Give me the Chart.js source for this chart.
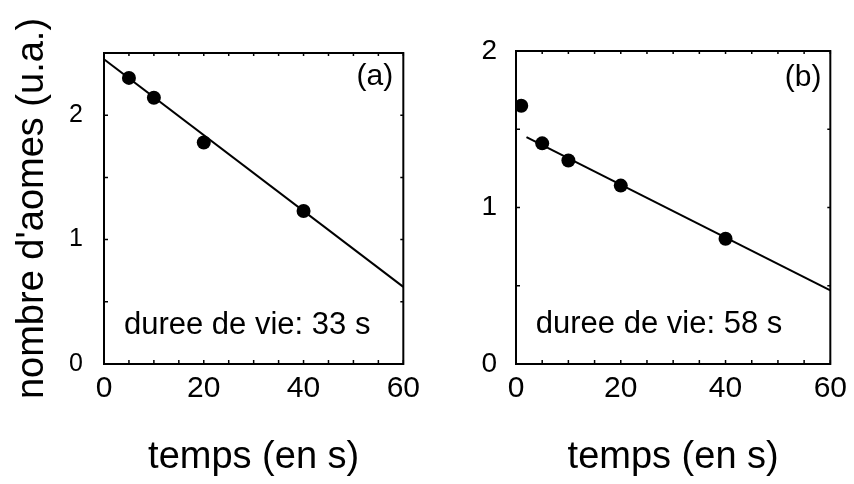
<!DOCTYPE html>
<html>
<head>
<meta charset="utf-8">
<script src="https://cdn.jsdelivr.net/npm/chart.js@4"></script>
<style>
  html, body { margin: 0; padding: 0; background: #fff; }
  #wrap { display: flex; width: 854px; height: 484px; }
  canvas { display: block; }
</style>
</head>
<body>
<div id="wrap">
  <canvas id="chartA" width="427" height="484"></canvas>
  <canvas id="chartB" width="427" height="484"></canvas>
</div>
<script>
// donnees
var tempsA = [5, 10, 20, 40];
var atomesA = [2.30, 2.14, 1.78, 1.23];
var ajustTempsA = [0, 60];
var ajustA = [2.45, 0.62];

var tempsB = [1, 5, 10, 20, 40];
var atomesB = [1.65, 1.41, 1.30, 1.14, 0.80];
var ajustTempsB = [2, 60];
var ajustB = [1.45, 0.47];

var xTicks = [0, 20, 40, 60];
var yTicks = [0, 1, 2];

var police = "'Liberation Sans', Arial, Helvetica, sans-serif";

function points(xs, ys) {
  return xs.map(function (x, i) { return {x: x, y: ys[i]}; });
}

// cadre, petites graduations internes et textes
var cadre = {
  id: 'cadre',
  afterDraw: function (chart, args, opts) {
    var ctx = chart.ctx, a = chart.chartArea;
    var x = chart.scales.x, y = chart.scales.y;
    ctx.save();
    ctx.strokeStyle = '#000';
    ctx.lineWidth = 2;
    ctx.strokeRect(a.left, a.top, a.right - a.left, a.bottom - a.top);
    ctx.lineWidth = 1.5;
    ctx.beginPath();
    x.ticks.forEach(function (t) {
      var px = x.getPixelForValue(t.value);
      ctx.moveTo(px, a.bottom); ctx.lineTo(px, a.bottom - 4);
      ctx.moveTo(px, a.top); ctx.lineTo(px, a.top + 3);
    });
    y.ticks.forEach(function (t) {
      var py = y.getPixelForValue(t.value);
      ctx.moveTo(a.left, py); ctx.lineTo(a.left + 4, py);
      ctx.moveTo(a.right, py); ctx.lineTo(a.right - 3, py);
    });
    ctx.stroke();
    ctx.fillStyle = '#000';
    ctx.textBaseline = 'middle';
    opts.textes.forEach(function (t) {
      ctx.font = t.taille + 'px ' + police;
      ctx.textAlign = 'center';
      ctx.fillText(t.texte, x.getPixelForValue(t.x), y.getPixelForValue(t.y));
    });
    ctx.restore();
  }
};

function options(cfg) {
  return {
    responsive: false,
    devicePixelRatio: 1,
    animation: false,
    layout: { padding: { top: cfg.haut, right: cfg.droite, left: 0, bottom: 0 } },
    plugins: {
      legend: { display: false },
      tooltip: { enabled: false },
      cadre: { textes: cfg.textes }
    },
    scales: {
      x: {
        type: 'linear', min: 0, max: 60,
        grid: { display: false, drawTicks: false },
        border: { display: false },
        ticks: {
          stepSize: 5, autoSkip: false, maxRotation: 0, padding: 7,
          color: '#000', font: { family: police, size: 30 },
          callback: function (v) { return xTicks.indexOf(v) >= 0 ? String(v) : ''; }
        },
        title: {
          display: true, text: 'temps (en s)', color: '#000',
          font: { family: police, size: 38 }, padding: { top: 0, bottom: 4 }
        },
        afterFit: function (s) { s.height = 120; }
      },
      y: {
        type: 'linear', min: 0, max: cfg.ymax,
        grid: { display: false, drawTicks: false },
        border: { display: false },
        ticks: {
          stepSize: 0.5, autoSkip: false, padding: cfg.ecartY,
          color: '#000', font: { family: police, size: cfg.tailleY },
          callback: function (v) { return yTicks.indexOf(v) >= 0 ? String(v) : ''; }
        },
        title: {
          display: cfg.titreY, text: "nombre d'aomes (u.a.)", color: '#000',
          font: { family: police, size: 38 }, padding: { top: 10, bottom: 0 }
        },
        afterFit: function (s) { s.width = cfg.largeurY; }
      }
    }
  };
}

function jeux(ts, ys, ats, ays) {
  return [
    {
      data: points(ts, ys), showLine: false,
      pointRadius: 7, pointBackgroundColor: '#000', pointBorderWidth: 0
    },
    {
      data: points(ats, ays), showLine: true, pointRadius: 0,
      borderColor: '#000', borderWidth: 2, fill: false
    }
  ];
}

new Chart(document.getElementById('chartA').getContext('2d'), {
  type: 'scatter',
  data: { datasets: jeux(tempsA, atomesA, ajustTempsA, ajustA) },
  options: options({
    haut: 53, droite: 14, ymax: 2.5, titreY: true, largeurY: 104,
    tailleY: 25, ecartY: 21,
    textes: [
      { texte: '(a)', x: 54.3, y: 2.31, taille: 30 },
      { texte: 'duree de vie: 33 s', x: 28.7, y: 0.31, taille: 31 }
    ]
  }),
  plugins: [cadre]
});

new Chart(document.getElementById('chartB').getContext('2d'), {
  type: 'scatter',
  data: { datasets: jeux(tempsB, atomesB, ajustTempsB, ajustB) },
  options: options({
    haut: 51, droite: 22, ymax: 2, titreY: false, largeurY: 89,
    tailleY: 28, ecartY: 19,
    textes: [
      { texte: '(b)', x: 54.8, y: 1.83, taille: 30 },
      { texte: 'duree de vie: 58 s', x: 27.3, y: 0.25, taille: 31 }
    ]
  }),
  plugins: [cadre]
});
</script>
</body>
</html>
